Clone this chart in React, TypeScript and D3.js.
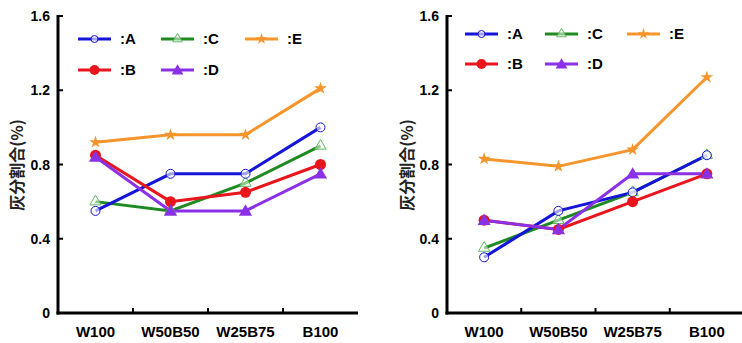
import React from "react";
import * as d3 from "d3";

const categories = ["W100", "W50B50", "W25B75", "B100"];
const yTicks = [0, 0.4, 0.8, 1.2, 1.6];
const seriesNames = ["A", "B", "C", "D", "E"];

const leftA = [0.55, 0.75, 0.75, 1.0];
const leftB = [0.85, 0.6, 0.65, 0.8];
const leftC = [0.6, 0.55, 0.7, 0.9];
const leftD = [0.84, 0.55, 0.55, 0.75];
const leftE = [0.92, 0.96, 0.96, 1.21];

const rightA = [0.3, 0.55, 0.65, 0.85];
const rightB = [0.5, 0.45, 0.6, 0.75];
const rightC = [0.35, 0.5, 0.65, 0.85];
const rightD = [0.5, 0.45, 0.75, 0.75];
const rightE = [0.83, 0.79, 0.88, 1.27];

const colors: Record<string, string> = {
  A: "#1515d8",
  B: "#e8161c",
  C: "#1f8a22",
  D: "#8a30e6",
  E: "#f5952c",
};

const FONT = "'Liberation Sans', Arial, sans-serif";

function Marker({ name, x, y, small }: { name: string; x: number; y: number; small?: boolean }) {
  const c = colors[name];
  if (name === "A")
    return <circle cx={x} cy={y} r={small ? 3.5 : 4.5} fill="white" fillOpacity={0.6} stroke={c} strokeWidth={1} />;
  if (name === "B") return <circle cx={x} cy={y} r={small ? 5 : 5.5} fill={c} />;
  if (name === "C") {
    const p = d3.symbol(d3.symbolTriangle, small ? 40 : 55)();
    return <path d={p || ""} transform={`translate(${x},${y})`} fill="white" fillOpacity={0.5} stroke="#5dbb5d" strokeWidth={1} />;
  }
  if (name === "D") {
    const p = d3.symbol(d3.symbolTriangle, small ? 60 : 75)();
    return <path d={p || ""} transform={`translate(${x},${y + 1})`} fill={c} />;
  }
  const p = d3.symbol(d3.symbolStar, small ? 40 : 50)();
  return <path d={p || ""} transform={`translate(${x},${y})`} fill={c} />;
}

function Panel({
  data,
  x0,
  x1,
  xEnd,
  legendX,
  legendY,
  labelX,
}: {
  data: number[][];
  x0: number;
  x1: number;
  xEnd: number;
  legendX: number[];
  legendY: number[];
  labelX: number;
}) {
  const y = d3.scaleLinear().domain([0, 1.6]).range([313, 16]);
  const x = d3.scaleBand<string>().domain(categories).range([x0, x1]);
  const cx = (c: string) => (x(c) as number) + x.bandwidth() / 2;
  const line = d3
    .line<number>()
    .x((_, i) => cx(categories[i]))
    .y((v) => y(v));
  const order = [2, 0, 1, 3, 4];
  return (
    <g>
      {order.map((si) => (
        <path key={"l" + si} d={line(data[si]) || ""} fill="none" stroke={colors[seriesNames[si]]} strokeWidth={3} />
      ))}
      {order.map((si) =>
        data[si].map((v, i) => <Marker key={si + "-" + i} name={seriesNames[si]} x={cx(categories[i])} y={y(v)} />)
      )}
      <line x1={x0} x2={x0} y1={y(1.6) - 1} y2={y(0) + 1.5} stroke="black" strokeWidth={3} />
      <line x1={x0 - 1.5} x2={xEnd} y1={y(0)} y2={y(0)} stroke="black" strokeWidth={3} />
      {yTicks.map((t) => (
        <g key={t}>
          <line x1={x0} x2={x0 + 5} y1={y(t)} y2={y(t)} stroke="black" strokeWidth={2} />
          <text x={x0 - 8} y={y(t)} dy="0.36em" textAnchor="end" fontFamily={FONT} fontWeight="bold" fontSize={14}>
            {t === 0 ? "0" : t.toFixed(1)}
          </text>
        </g>
      ))}
      {categories.slice(1).map((c) => (
        <line key={c} x1={x(c) as number} x2={x(c) as number} y1={y(0)} y2={y(0) - 5} stroke="black" strokeWidth={2} />
      ))}
      {categories.map((c) => (
        <text key={c} x={cx(c)} y={337} textAnchor="middle" fontFamily={FONT} fontWeight="bold" fontSize={15}>
          {c}
        </text>
      ))}
      <text
        transform={`translate(${labelX},165) rotate(-90)`}
        textAnchor="middle"
        dy="0.36em"
        fontFamily="'Noto Sans CJK JP', 'Noto Sans CJK SC', sans-serif"
        fontWeight="bold"
        fontSize={16}
        fill="#222"
      >
        灰分割合(%)
      </text>
      {[
        ["A", 0, 0],
        ["C", 1, 0],
        ["E", 2, 0],
        ["B", 0, 1],
        ["D", 1, 1],
      ].map(([n, col, row]) => {
        const lx = legendX[col as number];
        const ly = legendY[row as number];
        return (
          <g key={"lg" + n}>
            <line x1={lx} x2={lx + 33} y1={ly} y2={ly} stroke={colors[n as string]} strokeWidth={3} />
            <Marker name={n as string} x={lx + 16.5} y={ly} small />
            <text x={lx + 42} y={ly} dy="0.36em" fontFamily={FONT} fontWeight="bold" fontSize={15}>
              {":" + n}
            </text>
          </g>
        );
      })}
    </g>
  );
}

export default function App() {
  return (
    <svg width={742} height={343} style={{ position: "absolute", left: 0, top: 0, background: "white" }}>
      <rect width={742} height={343} fill="white" />
      <Panel
        data={[leftA, leftB, leftC, leftD, leftE]}
        x0={58}
        x1={358}
        xEnd={358}
        legendX={[78, 161, 245]}
        legendY={[39, 70]}
        labelX={17}
      />
      <Panel
        data={[rightA, rightB, rightC, rightD, rightE]}
        x0={447}
        x1={744}
        xEnd={742}
        legendX={[465, 545, 627]}
        legendY={[34, 64]}
        labelX={407}
      />
    </svg>
  );
}
